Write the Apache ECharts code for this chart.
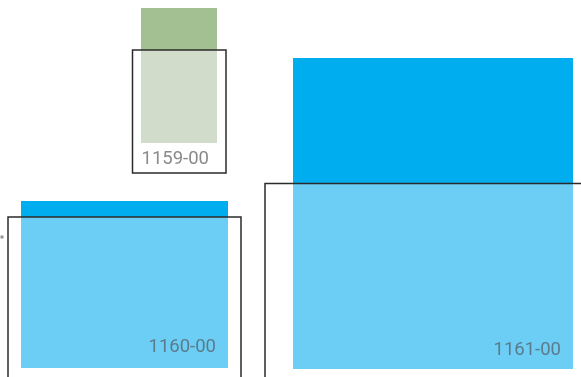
<!DOCTYPE html>
<html>
<head>
<meta charset="utf-8">
<script src="https://cdn.jsdelivr.net/npm/echarts@6/dist/echarts.min.js"></script>
<style>
  html, body { margin: 0; padding: 0; background: #fff; }
  #chart { width: 581px; height: 377px; }
</style>
</head>
<body>
<div id="chart"></div>
<script>
// swatch codes
const codes = ['1159-00', '1160-00', '1161-00'];
// swatch extents (page units, y grows downward)
const swatchLeft = [141, 21, 293];
const swatchRight = [217, 228, 573];
const swatchTop = [8, 201, 58];
const swatchSplit = [50, 217, 183];
const swatchBottom = [143, 368, 369];
// frame outlines
const frameLeft = [132.5, 8, 265];
const frameRight = [226, 241, 620];
const frameTop = [50, 217, 183.5];
const frameBottom = [173, 420, 420];
// label anchors (right edge, vertical middle)
const labelX = [209, 216, 561];
const labelY = [159.5, 347, 350];
// stray dot
const dotX = [2];
const dotY = [237];

const darkColors = ['#a3c093', '#00adee', '#00adee'];
const lightColors = ['#d1ddca', '#6dcef5', '#6dcef5'];
const labelColors = ['#8a8a8a', '#5a7b8c', '#5a7b8c'];

const rows = codes.map((c, i) => [i, swatchLeft[i], swatchRight[i], swatchTop[i], swatchSplit[i], swatchBottom[i],
  frameLeft[i], frameRight[i], frameTop[i], frameBottom[i], labelX[i], labelY[i]]);

const chart = echarts.init(document.getElementById('chart'));
chart.setOption({
  animation: false,
  grid: { left: 0, right: 0, top: 0, bottom: 0 },
  xAxis: { type: 'value', min: 0, max: 581, show: false },
  yAxis: { type: 'value', min: 0, max: 377, inverse: true, show: false },
  series: [
    {
      type: 'custom',
      clip: true,
      data: rows,
      renderItem: function (params, api) {
        const i = api.value(0);
        const tl = api.coord([api.value(1), api.value(3)]);
        const mid = api.coord([api.value(2), api.value(4)]);
        const br = api.coord([api.value(2), api.value(5)]);
        const ftl = api.coord([api.value(6), api.value(8)]);
        const fbr = api.coord([api.value(7), api.value(9)]);
        const lab = api.coord([api.value(10), api.value(11)]);
        return {
          type: 'group',
          children: [
            { type: 'rect', shape: { x: tl[0], y: tl[1], width: mid[0] - tl[0], height: mid[1] - tl[1] },
              style: { fill: darkColors[i] } },
            { type: 'rect', shape: { x: tl[0], y: mid[1], width: br[0] - tl[0], height: br[1] - mid[1] },
              style: { fill: lightColors[i] } },
            { type: 'rect', shape: { x: ftl[0], y: ftl[1], width: fbr[0] - ftl[0], height: fbr[1] - ftl[1] },
              style: { fill: null, stroke: '#2b2b2b', lineWidth: 1.5 } },
            { type: 'text', x: lab[0], y: lab[1],
              style: { text: codes[i], fill: labelColors[i], fontSize: 18.5,
                fontFamily: 'Roboto', align: 'right', verticalAlign: 'middle' } }
          ]
        };
      }
    },
    {
      type: 'scatter',
      data: dotX.map((x, i) => [x, dotY[i]]),
      symbol: 'rect',
      symbolSize: 3,
      itemStyle: { color: '#777' }
    }
  ]
});
</script>
</body>
</html>
